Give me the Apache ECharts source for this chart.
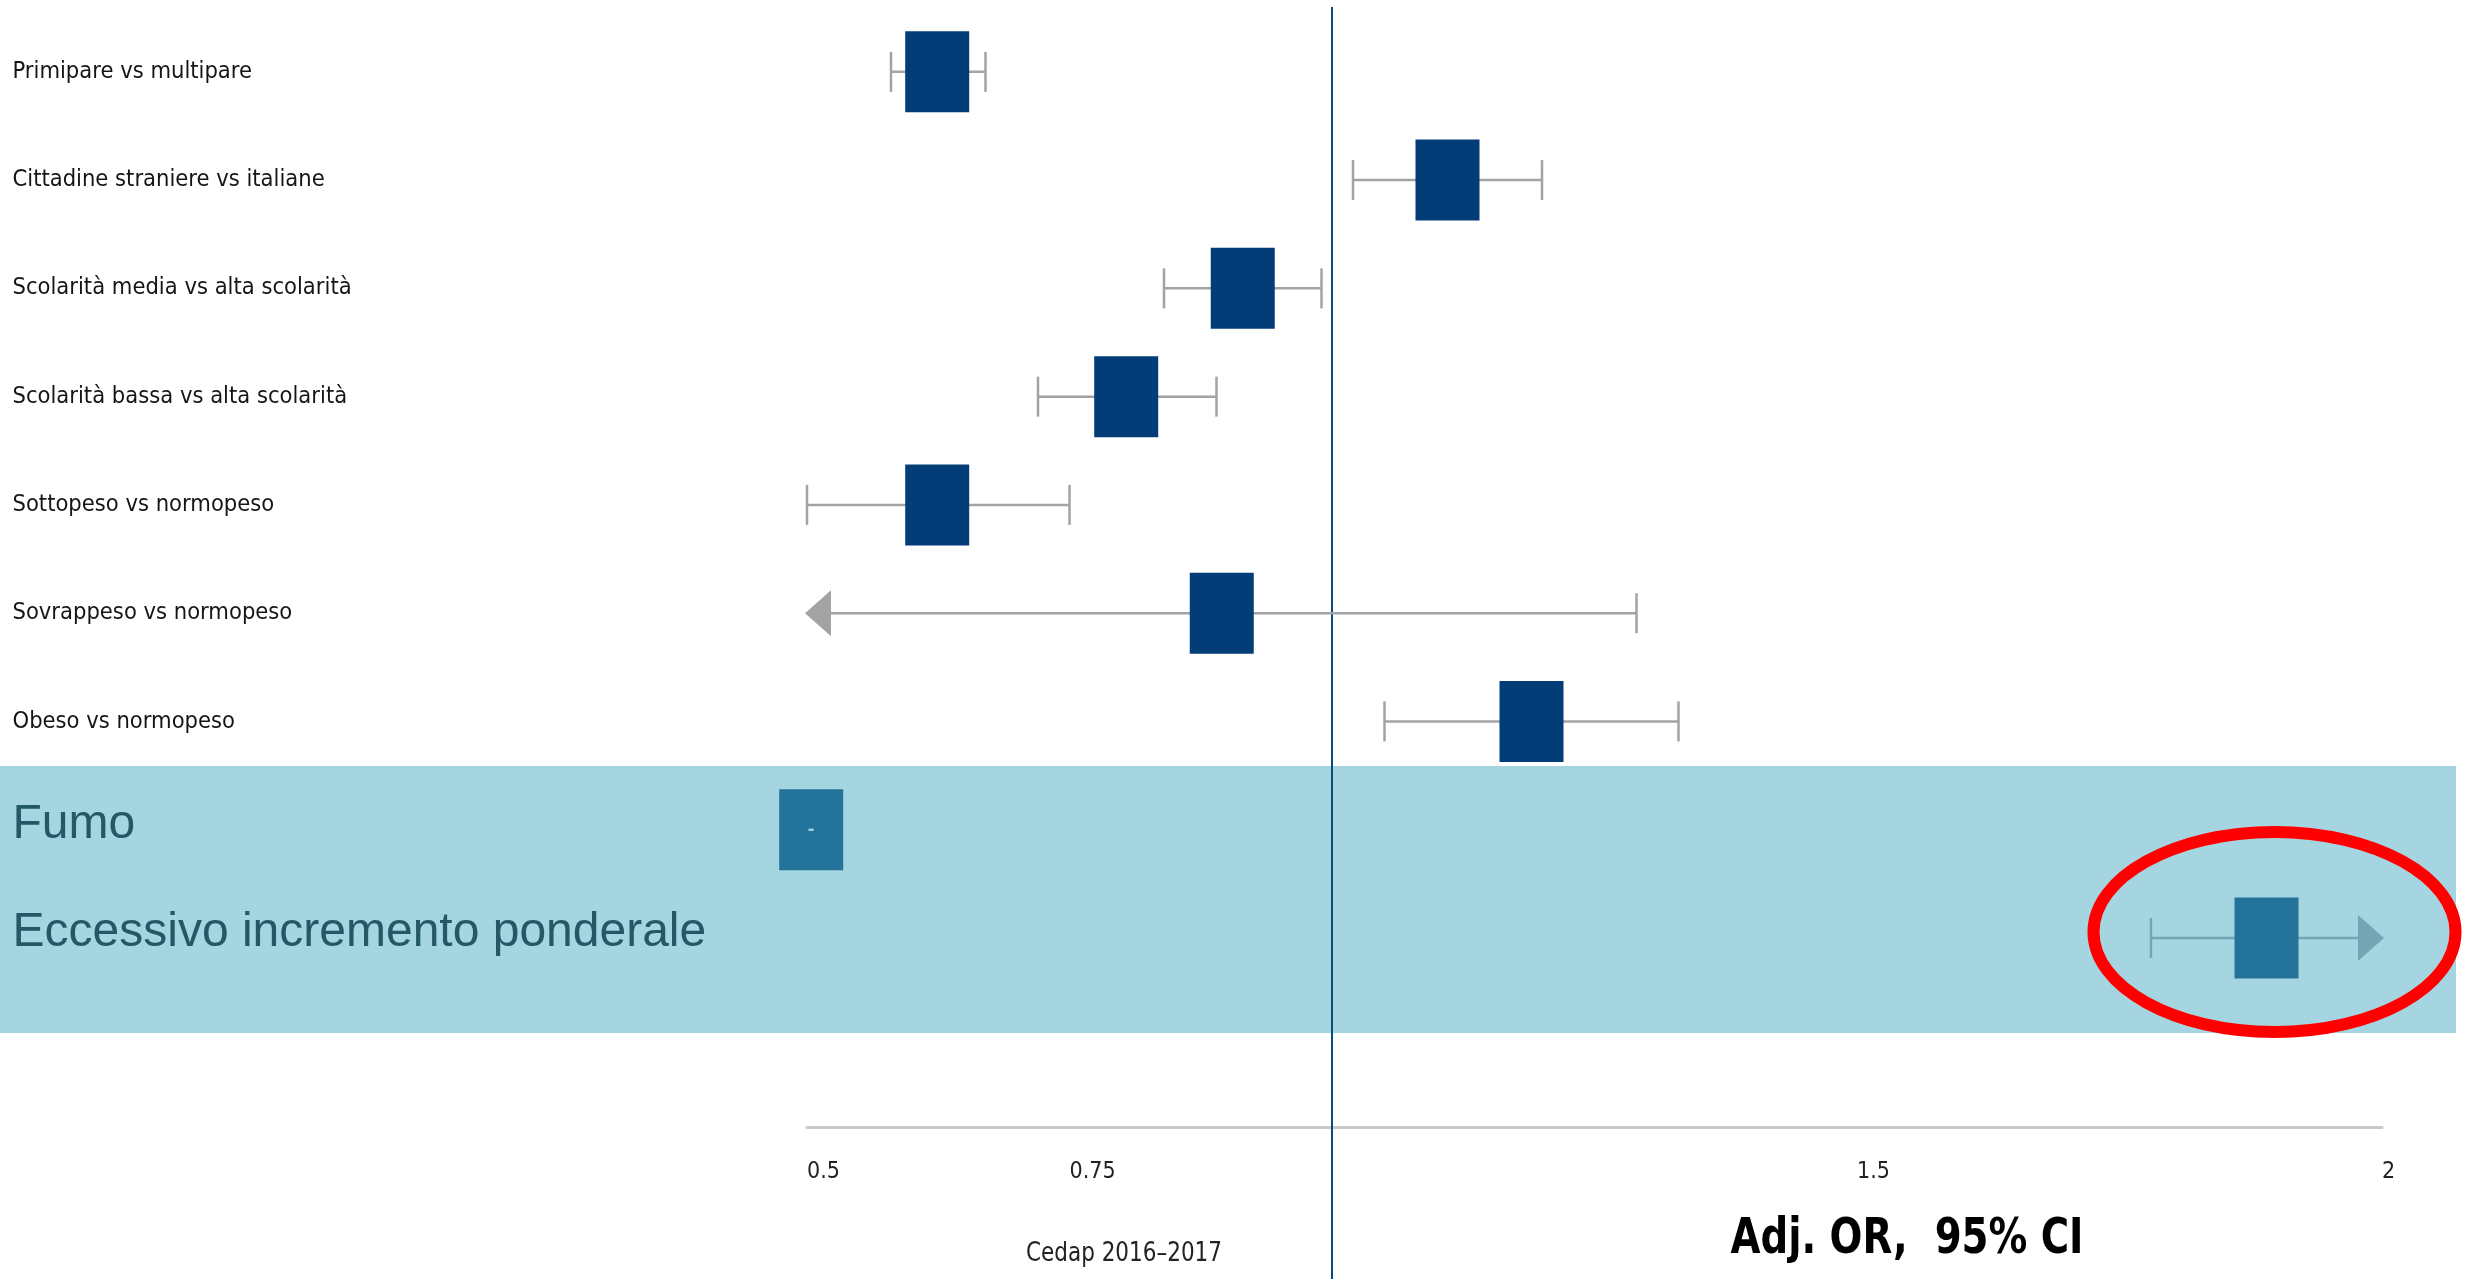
<!DOCTYPE html>
<html>
<head>
<meta charset="utf-8">
<title>Fattori associati - OR aggiustati</title>
<script src="https://cdn.jsdelivr.net/npm/echarts@6/dist/echarts.min.js"></script>
<style>
  html, body { margin: 0; padding: 0; background: #ffffff; }
  #chart { width: 2474px; height: 1279px; }
</style>
</head>
<body>
<div id="chart"></div>
<script>
// Rows of the forest plot, top to bottom
const categories = [
  'Primipare vs multipare',
  'Cittadine straniere vs italiane',
  'Scolarità media vs alta scolarità',
  'Scolarità bassa vs alta scolarità',
  'Sottopeso vs normopeso',
  'Sovrappeso vs normopeso',
  'Obeso vs normopeso',
  'Fumo',
  'Eccessivo incremento ponderale'
];
// Adjusted odds ratios and 95% confidence limits (null = not reported)
const orValues = [0.624, 1.11, 0.915, 0.804, 0.624, 0.895, 1.19, 0.504, 1.89];
const ciLower  = [0.58, 1.02, 0.84, 0.72, 0.50, 0.45, 1.05, null, 1.78];
const ciUpper  = [0.67, 1.20, 0.99, 0.89, 0.75, 1.29, 1.33, null, 2.05];
// Rows shown on the highlighted band
const highlightedRows = ['Fumo', 'Eccessivo incremento ponderale'];
// Labels printed along the OR axis
const xTickLabels = [0.5, 0.75, 1.5, 2];
const referenceOR = 1;
const xMin = 0.5, xMax = 2, xStep = 0.25;

const NARROW = "'DejaVu Sans Condensed', 'Liberation Sans Narrow', sans-serif";
const SANS = "'Liberation Sans', Arial, sans-serif";

const isHighlighted = i => highlightedRows.indexOf(categories[i]) !== -1;

const whiskerData = [];
categories.forEach((c, i) => {
  if (ciLower[i] != null && ciUpper[i] != null) whiskerData.push([i, ciLower[i], ciUpper[i]]);
});
const boxData = categories.map((c, i) => [i, orValues[i], ciLower[i] == null ? 1 : 0]);

const chart = echarts.init(document.getElementById('chart'), null, { renderer: 'canvas' });

const GRID_TOP = 17.7, GRID_BOTTOM = 286.9;

chart.setOption({
  animation: false,
  backgroundColor: '#ffffff',
  grid: { left: 807, right: 92, top: GRID_TOP, bottom: GRID_BOTTOM, containLabel: false },
  xAxis: {
    type: 'value',
    min: xMin, max: xMax, interval: xStep,
    offset: 135.2,
    axisLine: { show: true, lineStyle: { color: '#c9c9c9', width: 3 } },
    axisTick: { show: false },
    splitLine: { show: false },
    axisLabel: {
      show: true,
      align: 'left',
      margin: 33,
      fontFamily: NARROW,
      fontSize: 23,
      color: '#222222',
      showMinLabel: true,
      showMaxLabel: true,
      formatter: v => {
        const hit = xTickLabels.find(t => Math.abs(t - v) < 1e-9);
        return hit === undefined ? '' : String(hit);
      }
    }
  },
  yAxis: {
    type: 'category',
    data: categories,
    inverse: true,
    axisLine: { show: false },
    axisTick: { show: false },
    splitLine: { show: false },
    axisLabel: {
      show: true,
      align: 'left',
      margin: 794.5,
      interval: 0,
      formatter: (value) => {
        const i = categories.indexOf(value);
        return isHighlighted(i) ? '{b|' + value + '}' : '{a|' + value + '}';
      },
      rich: {
        a: { fontFamily: NARROW, fontSize: 23.5, color: '#151515' },
        b: { fontFamily: SANS, fontSize: 48, color: '#235867', padding: [0, 0, 10, 0] }
      }
    }
  },
  graphic: {
    elements: [
      {
        id: 'band', type: 'rect', z: -100, silent: true,
        shape: { x: 0, y: 766, width: 2456, height: 267 },
        style: { fill: '#a6d5e2' }
      },
      {
        id: 'source', type: 'text', z: 10,
        x: 1124, y: 1254, scaleX: 0.92,
        style: { text: 'Cedap 2016–2017', fontFamily: NARROW, fontSize: 26, fill: '#222222', align: 'center', verticalAlign: 'middle' }
      },
      {
        id: 'measure', type: 'text', z: 10,
        x: 1907, y: 1240, scaleX: 0.86,
        style: { text: 'Adj. OR,  95% CI', fontFamily: NARROW, fontWeight: 'bold', fontSize: 50, fill: '#000000', align: 'center', verticalAlign: 'middle' }
      }
    ]
  },
  series: [
    {
      // vertical line of no effect (OR = 1)
      type: 'custom',
      name: 'riferimento',
      clip: false,
      z: 1,
      data: [[referenceOR, 0]],
      encode: { x: 0, y: 1 },
      renderItem: (params, api) => {
        const x = api.coord([api.value(0), 0])[0];
        return {
          type: 'line',
          shape: { x1: x, y1: 7, x2: x, y2: api.getHeight() },
          style: { stroke: '#0c4a80', lineWidth: 2 }
        };
      }
    },
    {
      // confidence intervals: caps at reported limits, arrows where the limit is off-scale
      type: 'custom',
      name: 'IC 95%',
      clip: false,
      z: 2,
      data: whiskerData,
      encode: { y: 0, x: [1, 2] },
      renderItem: (params, api) => {
        const row = api.value(0), lo = api.value(1), hi = api.value(2);
        const pLo = api.coord([Math.max(lo, xMin), row]);
        const pHi = api.coord([Math.min(hi, xMax), row]);
        const color = isHighlighted(row) ? '#74a5b4' : '#a3a3a3';
        const capH = 40, arrW = 24, arrH = 46;
        const y = pLo[1];
        const children = [{
          type: 'line',
          shape: { x1: pLo[0], y1: y, x2: pHi[0], y2: y },
          style: { stroke: color, lineWidth: 2.5 }
        }];
        if (lo < xMin) {
          children.push({ type: 'polygon', shape: { points: [[pLo[0] - 2, y], [pLo[0] + arrW, y - arrH / 2], [pLo[0] + arrW, y + arrH / 2]] }, style: { fill: color } });
        } else {
          children.push({ type: 'line', shape: { x1: pLo[0], y1: y - capH / 2, x2: pLo[0], y2: y + capH / 2 }, style: { stroke: color, lineWidth: 2.5 } });
        }
        if (hi > xMax) {
          children.push({ type: 'polygon', shape: { points: [[pHi[0] + 2, y], [pHi[0] - arrW, y - arrH / 2], [pHi[0] - arrW, y + arrH / 2]] }, style: { fill: color } });
        } else {
          children.push({ type: 'line', shape: { x1: pHi[0], y1: y - capH / 2, x2: pHi[0], y2: y + capH / 2 }, style: { stroke: color, lineWidth: 2.5 } });
        }
        return { type: 'group', children };
      }
    },
    {
      // point estimates
      type: 'custom',
      name: 'OR',
      clip: false,
      z: 3,
      data: boxData,
      encode: { y: 0, x: 1 },
      renderItem: (params, api) => {
        const row = api.value(0);
        const p = api.coord([api.value(1), row]);
        const w = 64, h = 81;
        const hl = isHighlighted(row);
        const children = [{
          type: 'rect',
          shape: { x: p[0] - w / 2, y: p[1] - h / 2, width: w, height: h },
          style: { fill: hl ? '#24739b' : '#023d78' }
        }];
        if (api.value(2) === 1) {
          children.push({
            type: 'text',
            x: p[0], y: p[1],
            style: { text: '-', fontFamily: SANS, fontSize: 20, fontWeight: 'bold', fill: '#9dcfe0', align: 'center', verticalAlign: 'middle' }
          });
        }
        return { type: 'group', children };
      }
    }
  ]
});

// Red ring drawn around the excessive weight gain estimate
const lastRow = categories.length - 1;
const ringCentre = chart.convertToPixel({ gridIndex: 0 }, [orValues[lastRow], lastRow]);
chart.setOption({
  graphic: {
    elements: [{
      id: 'ring', type: 'ellipse', z: 50, silent: true,
      shape: { cx: ringCentre[0] + 8, cy: ringCentre[1] - 6, rx: 181, ry: 100 },
      style: { fill: null, stroke: '#ff0000', lineWidth: 12 }
    }]
  }
});
</script>
</body>
</html>
